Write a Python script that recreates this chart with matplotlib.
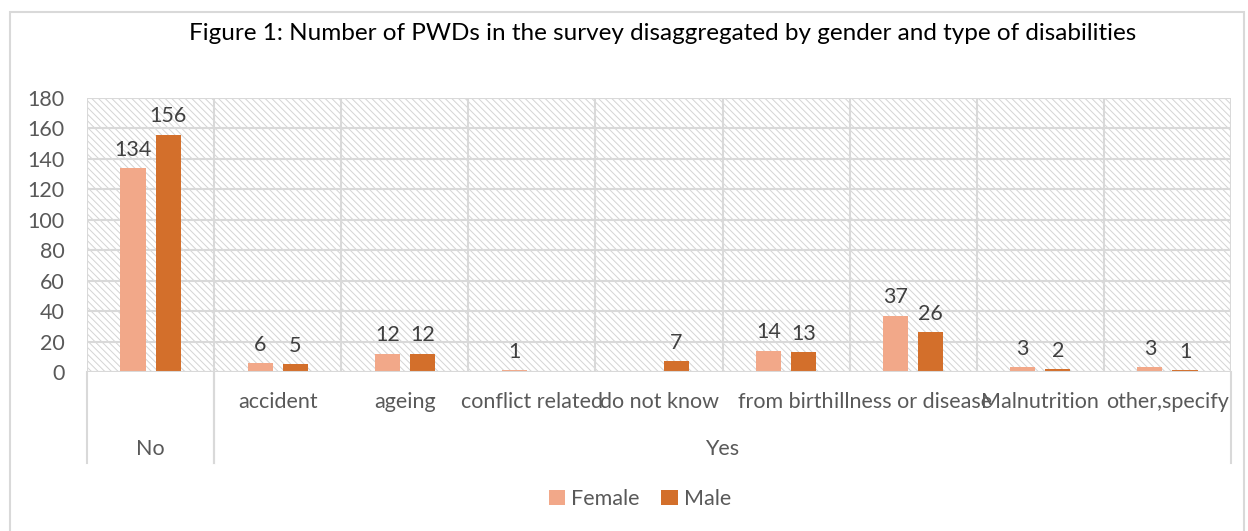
import matplotlib
matplotlib.use("Agg")
import matplotlib.pyplot as plt
from matplotlib.patches import Rectangle, Patch
from matplotlib.lines import Line2D
import numpy as np

# Data
groups = ["No", "Yes"]
categories = ["", "accident", "ageing", "conflict related", "do not know",
              "from birth", "illness or disease", "Malnutrition", "other,specify"]
category_group = ["No", "Yes", "Yes", "Yes", "Yes", "Yes", "Yes", "Yes", "Yes"]
female = [134, 6, 12, 1, 0, 14, 37, 3, 3]
male = [156, 5, 12, 0, 7, 13, 26, 2, 1]
y_ticks = [0, 20, 40, 60, 80, 100, 120, 140, 160, 180]

female_color = "#F2A889"
male_color = "#D36F2B"
grid_color = "#D9D9D9"
text_color = "#595959"
fs = 15.5

plt.rcParams["font.family"] = ["Lato", "DejaVu Sans"]
plt.rcParams["hatch.linewidth"] = 0.7

W, H = 1248, 531
fig = plt.figure(figsize=(W / 100, H / 100), dpi=100)

# outer chart frame
fig.add_artist(Rectangle((10 / W, -0.01), (1244 - 10) / W, 1.01 - 12 / H,
                         transform=fig.transFigure, fill=False,
                         edgecolor=grid_color, linewidth=1.5))

left, right, top, bottom = 87, 1231, 98, 372
ax = fig.add_axes([left / W, (H - bottom) / H, (right - left) / W, (bottom - top) / H])

n = len(categories)
x = np.arange(n)
offset = 0.138
width = 0.197

# hatched plot background
ax.add_patch(Rectangle((0, 0), 1, 1, transform=ax.transAxes, facecolor="white",
                       edgecolor="#D4D4D4", hatch="\\\\\\\\\\", linewidth=0, zorder=0))

ax.bar(x - offset, female, width=width, color=female_color, zorder=3, label="Female")
ax.bar(x + offset, male, width=width, color=male_color, zorder=3, label="Male")

for xi, v in zip(x, female):
    if v > 0:
        ax.annotate(str(v), (xi - offset, v), xytext=(0, 6), textcoords="offset points",
                    ha="center", va="bottom", fontsize=fs, color="#404040")
for xi, v in zip(x, male):
    if v > 0:
        ax.annotate(str(v), (xi + offset, v), xytext=(0, 6), textcoords="offset points",
                    ha="center", va="bottom", fontsize=fs, color="#404040")

ax.set_xlim(-0.5, n - 0.5)
ax.set_ylim(0, 180)
ax.set_yticks(y_ticks)
ax.set_yticklabels([str(t) for t in y_ticks], fontsize=fs, color=text_color)
ax.set_xticks([])
ax.set_xticks(np.arange(-0.5, n, 1), minor=True)
ax.tick_params(axis="x", which="both", length=0, labelbottom=False)
ax.tick_params(axis="y", length=0, pad=16)
ax.grid(axis="y", color=grid_color, linewidth=1.5, zorder=1)
ax.grid(axis="x", which="minor", color=grid_color, linewidth=1.5, zorder=1)
ax.set_axisbelow(True)
for s in ax.spines.values():
    s.set_visible(False)
ax.axhline(0, color=grid_color, linewidth=1.5, zorder=4)

# two-level category labels under the axis
trans = ax.get_xaxis_transform()
label_h = (463 - bottom) / (bottom - top)
for xi, c in zip(x, categories):
    if c:
        ax.text(xi, -(402 - bottom) / (bottom - top), c, transform=trans, ha="center",
                va="center", fontsize=fs, color=text_color)
for g in groups:
    idx = [i for i, cg in enumerate(category_group) if cg == g]
    lo, hi = idx[0] - 0.5, idx[-1] + 0.5
    ax.text((lo + hi) / 2, -(449 - bottom) / (bottom - top), g, transform=trans,
            ha="center", va="center", fontsize=fs, color=text_color)
    for b in (lo, hi):
        ax.add_line(Line2D([b, b], [0, -label_h], transform=trans, color=grid_color,
                           linewidth=1.5, clip_on=False))

fig.text(663 / W, 1 - 33 / H,
         "Figure 1: Number of PWDs in the survey disaggregated by gender and type of disabilities",
         ha="center", va="center", fontsize=17.5, color="black")

handles = [Patch(facecolor=female_color, label="Female"),
           Patch(facecolor=male_color, label="Male")]
fig.legend(handles=handles, loc="center", bbox_to_anchor=(640 / W, 1 - 499 / H), ncol=2,
           frameon=False, fontsize=fs, handlelength=0.75, handleheight=0.75,
           handletextpad=0.3, columnspacing=1.0, labelcolor=text_color)

fig.savefig("out.png", dpi=100)
